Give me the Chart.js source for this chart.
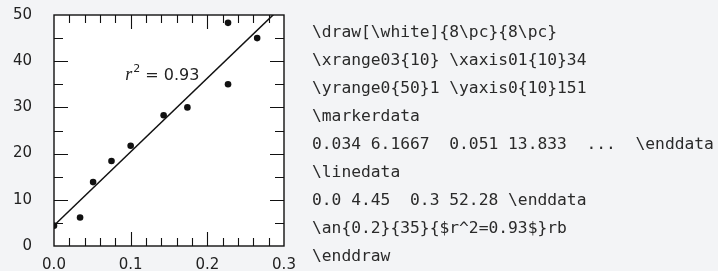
<!DOCTYPE html>
<html>
<head>
<meta charset="utf-8">
<script src="https://cdn.jsdelivr.net/npm/chart.js@4.4.1/dist/chart.umd.min.js"></script>
<style>
  html, body { margin: 0; padding: 0; background: #f3f4f6; }
  #wrap { position: relative; width: 718px; height: 271px; overflow: hidden; }
  #code {
    position: absolute; left: 312px; top: 18px; margin: 0;
    font-family: "DejaVu Sans Mono", monospace; font-size: 16.3px;
    line-height: 28px; color: #2a2a2a; white-space: pre;
  }
</style>
</head>
<body>
<div id="wrap">
  <canvas id="fitChart" width="718" height="271"></canvas>
  <pre id="code"></pre>
</div>
<script>
// scatter points
var pointX = [0.0, 0.034, 0.051, 0.075, 0.1, 0.143, 0.174, 0.227, 0.227, 0.265];
var pointY = [4.4, 6.1667, 13.833, 18.4, 21.7, 28.3, 30.0, 48.3, 35.0, 45.0];

// regression line end points
var lineX = [0.0, 0.3];
var lineY = [4.45, 52.28];

var xTickLabels = ["0.0", "0.1", "0.2", "0.3"];
var yTickLabels = ["0", "10", "20", "30", "40", "50"];

var annX = 0.2;
var annY = 35;
var annR2 = "0.93";

var codeLines = [
  "\\draw[\\white]{8\\pc}{8\\pc}",
  "\\xrange03{10} \\xaxis01{10}34",
  "\\yrange0{50}1 \\yaxis0{10}151",
  "\\markerdata",
  "0.034 6.1667  0.051 13.833  ...  \\enddata",
  "\\linedata",
  "0.0 4.45  0.3 52.28 \\enddata",
  "\\an{0.2}{35}{$r^2=0.93$}rb",
  "\\enddraw"
];

document.getElementById("code").textContent = codeLines.join("\n");

var points = [];
for (var i in pointX) {
  points.push({ x: pointX[i], y: pointY[i] });
}
var linePts = [];
for (var j in lineX) {
  linePts.push({ x: lineX[j], y: lineY[j] });
}

// white plot area, frame and inward ticks on all four sides
var framePlugin = {
  id: "frame",
  beforeDatasetsDraw: function (chart) {
    var a = chart.chartArea;
    var c = chart.ctx;
    c.save();
    c.fillStyle = "#ffffff";
    c.fillRect(a.left, a.top, a.right - a.left, a.bottom - a.top);
    c.restore();
  },
  afterDatasetsDraw: function (chart) {
    var a = chart.chartArea;
    var c = chart.ctx;
    var xs = chart.scales.x;
    var ys = chart.scales.y;
    c.save();
    c.strokeStyle = "#111";
    c.lineWidth = 1.4;
    c.strokeRect(a.left, a.top, a.right - a.left, a.bottom - a.top);
    c.lineWidth = 1.1;
    c.beginPath();
    for (var k = 1; k < 15; k++) {
      var px = Math.round(xs.getPixelForValue(k * 0.02)) + 0.5;
      var len = k % 5 === 0 ? 14 : 8;
      c.moveTo(px, a.bottom); c.lineTo(px, a.bottom - len);
      c.moveTo(px, a.top); c.lineTo(px, a.top + len);
    }
    for (var m = 1; m < 10; m++) {
      var py = Math.round(ys.getPixelForValue(m * 5)) + 0.5;
      var ln = m % 2 === 0 ? 14 : 9;
      c.moveTo(a.left, py); c.lineTo(a.left + ln, py);
      c.moveTo(a.right, py); c.lineTo(a.right - ln, py);
    }
    c.stroke();

    // r^2 annotation, anchored right-bottom
    var ax = xs.getPixelForValue(annX) - 8;
    var ay = ys.getPixelForValue(annY) - 4;
    var rest = " = " + annR2;
    c.fillStyle = "#222";
    c.textBaseline = "alphabetic";
    c.textAlign = "left";
    c.font = "16px 'DejaVu Sans'";
    var wRest = c.measureText(rest).width;
    c.font = "11px 'DejaVu Sans'";
    var wSup = c.measureText("2").width;
    c.font = "italic 18px 'Liberation Serif'";
    var wR = c.measureText("r").width;
    var x0 = ax - wRest - wSup - wR - 1;
    c.fillText("r", x0, ay);
    c.font = "11px 'DejaVu Sans'";
    c.fillText("2", x0 + wR + 1, ay - 8);
    c.font = "16px 'DejaVu Sans'";
    c.fillText(rest, x0 + wR + 1 + wSup, ay);
    c.restore();
  }
};

var ctx = document.getElementById("fitChart");

var myChart = new Chart(ctx, {
  type: "scatter",
  data: {
    datasets: [
      {
        label: "fit",
        type: "line",
        data: linePts,
        borderColor: "#111",
        borderWidth: 1.5,
        pointRadius: 0,
        fill: false,
      },
      {
        label: "data",
        data: points,
        backgroundColor: "#111",
        borderWidth: 0,
        pointRadius: 3.3,
        clip: 0,
      },
    ],
  },
  options: {
    responsive: false,
    animation: false,
    devicePixelRatio: 1,
    layout: { autoPadding: false, padding: { left: 0, top: 15, right: 434, bottom: 0 } },
    plugins: { legend: { display: false }, tooltip: { enabled: false } },
    scales: {
      x: {
        type: "linear",
        min: 0,
        max: 0.3,
        afterFit: function (s) {
          s.height = 25;
          s.paddingLeft = 0; s.paddingRight = 0;
        },
        grid: { display: false, drawTicks: false },
        border: { display: false },
        ticks: {
          stepSize: 0.1,
          padding: 10,
          color: "#222",
          font: { family: "DejaVu Sans", size: 15 },
          maxRotation: 0,
          callback: function (v) { return xTickLabels[Math.round(v * 10)]; },
        },
      },
      y: {
        min: 0,
        max: 50,
        afterFit: function (s) {
          s.width = 54;
          s.paddingTop = 0; s.paddingBottom = 0;
        },
        grid: { display: false, drawTicks: false },
        border: { display: false },
        ticks: {
          stepSize: 10,
          padding: 22,
          color: "#222",
          font: { family: "DejaVu Sans", size: 15 },
          callback: function (v) { return yTickLabels[Math.round(v / 10)]; },
        },
      },
    },
  },
  plugins: [framePlugin],
});
</script>
</body>
</html>
